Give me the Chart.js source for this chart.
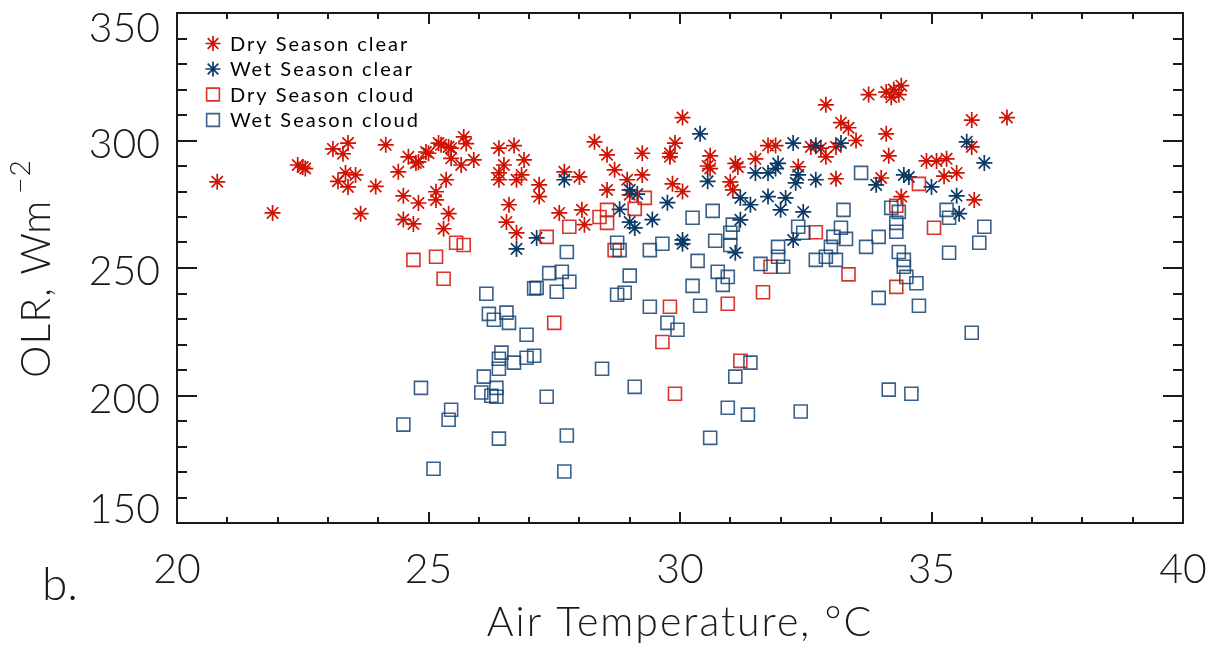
<!DOCTYPE html>
<html>
<head>
<meta charset="utf-8">
<title>OLR vs air temperature</title>
<script src="https://cdn.jsdelivr.net/npm/chart.js@4.4.1/dist/chart.umd.min.js"></script>
<style>
  html, body { margin: 0; padding: 0; background: #fff; }
  #wrap { width: 1215px; height: 650px; position: relative; }
</style>
</head>
<body>
<div id="wrap"><canvas id="olrChart"></canvas></div>
<script>
// Axis ticks
const xTicks = [20, 25, 30, 35, 40];
const yTicks = [150, 200, 250, 300, 350];
const xMinorStep = 1;
const yMinorStep = 10;

const seriesNames = ['Dry Season clear', 'Wet Season clear', 'Dry Season cloud', 'Wet Season cloud'];

// [air temperature (°C), OLR (W m-2)]
const dryClear = [
  [20.8, 283.8], [21.9, 271.6], [22.4, 290.4], [22.5, 289.6], [22.55, 289.0],
  [23.1, 296.7], [23.4, 299.0], [23.3, 294.8], [23.2, 284.0], [23.35, 287.3],
  [23.4, 281.8], [23.55, 286.5], [23.65, 271.3], [23.95, 282.0], [24.15, 298.3],
  [24.4, 287.7], [24.5, 278.3], [24.5, 269.0], [24.7, 267.3], [24.6, 293.6],
  [24.8, 291.6], [24.75, 291.2], [24.8, 275.5], [24.95, 295.5], [25.0, 295.0],
  [25.15, 279.9], [25.15, 276.7], [25.35, 284.6], [25.4, 271.3], [25.3, 265.4],
  [25.2, 299.0], [25.25, 298.3], [25.4, 297.5], [25.45, 297.0], [25.65, 290.4],
  [25.7, 301.4], [25.75, 298.8], [25.45, 293.0], [25.9, 292.4], [26.4, 297.0],
  [26.7, 298.0], [26.5, 290.4], [26.4, 287.3], [26.4, 284.6], [26.75, 284.6],
  [26.9, 292.4], [26.85, 286.5], [27.2, 282.6], [27.2, 278.0], [26.6, 274.8],
  [26.55, 268.0], [26.75, 263.8], [27.6, 271.6], [27.7, 287.7], [28.0, 285.7],
  [28.05, 272.8], [28.1, 267.0], [28.3, 299.5], [28.55, 294.4], [28.7, 288.5],
  [28.55, 280.6], [28.95, 284.6], [29.25, 286.5], [29.0, 278.7], [29.25, 295.0],
  [29.8, 295.0], [29.8, 293.6], [29.9, 299.0], [29.85, 283.0], [30.05, 280.0],
  [30.05, 309.0], [30.6, 294.0], [30.55, 290.0], [30.6, 289.0], [31.1, 291.0],
  [31.15, 289.6], [31.5, 292.8], [31.75, 298.0], [31.9, 298.0], [32.6, 297.5],
  [32.8, 297.0], [32.9, 293.6], [33.1, 297.5], [33.5, 300.0], [34.15, 294.0],
  [34.9, 292.0], [35.1, 292.0], [35.3, 292.8], [35.25, 286.0], [31.0, 283.8],
  [31.05, 280.6], [32.35, 289.7], [33.1, 285.0], [34.0, 285.3], [34.4, 278.0],
  [33.2, 307.0], [33.35, 305.0], [34.1, 302.6], [32.9, 314.0], [33.75, 318.0],
  [34.1, 319.0], [34.2, 317.0], [34.25, 320.0], [34.35, 318.0], [34.4, 321.5],
  [35.8, 308.0], [36.5, 309.0], [35.8, 297.5], [35.5, 287.3], [35.85, 276.7]
];

const wetClear = [
  [26.75, 257.5], [27.15, 261.8], [27.7, 284.6], [28.8, 273.0], [29.0, 280.6],
  [29.15, 279.0], [29.0, 268.0], [29.1, 265.7], [29.45, 269.0], [29.75, 275.6],
  [30.05, 261.0], [30.05, 259.5], [30.4, 302.6], [30.55, 284.0], [31.1, 256.0],
  [31.2, 277.5], [31.4, 274.8], [31.2, 268.9], [31.5, 287.3], [31.75, 287.3],
  [31.75, 278.0], [31.9, 289.0], [31.95, 291.0], [32.0, 272.8], [32.1, 277.5],
  [32.25, 299.0], [32.25, 261.0], [32.3, 283.4], [32.35, 286.5], [32.45, 272.0],
  [32.7, 298.0], [32.7, 284.6], [33.2, 299.0], [33.9, 282.6], [34.45, 286.5],
  [34.55, 285.7], [35.0, 281.8], [35.5, 278.3], [35.55, 271.3], [35.7, 299.5],
  [36.05, 291.2]
];

const dryCloud = [
  [24.7, 253.2], [25.15, 254.4], [25.3, 245.8], [25.55, 259.9], [25.7, 259.0],
  [27.35, 262.2], [27.8, 266.2], [28.55, 272.8], [28.4, 270.0], [28.55, 267.7],
  [28.7, 257.0], [29.1, 273.2], [29.3, 277.5], [32.7, 264.0], [31.8, 250.5],
  [33.35, 247.5], [34.3, 274.4], [34.75, 283.0], [35.05, 265.8], [34.3, 242.6],
  [31.65, 240.5], [27.5, 228.5], [29.8, 234.8], [29.65, 221.0], [29.9, 200.7],
  [30.95, 236.0], [31.2, 213.6]
];

const wetCloud = [
  [26.15, 239.9], [26.2, 232.0], [26.3, 229.7], [26.55, 232.5], [26.6, 228.5],
  [26.45, 216.8], [26.4, 214.4], [26.4, 210.5], [26.1, 207.4], [26.7, 212.9],
  [26.05, 201.2], [26.25, 199.9], [26.35, 199.5], [26.35, 203.0], [25.45, 194.4],
  [25.4, 190.5], [24.85, 203.0], [24.5, 188.6], [26.4, 183.1], [25.1, 171.3],
  [27.4, 248.0], [27.65, 248.5], [27.8, 244.6], [27.1, 242.0], [27.15, 242.2],
  [27.55, 240.7], [28.75, 239.5], [28.9, 240.3], [29.0, 247.0], [29.4, 234.8],
  [30.25, 243.0], [30.4, 235.2], [30.85, 243.4], [30.95, 246.5], [30.75, 248.5],
  [29.75, 228.5], [29.95, 225.8], [26.95, 223.8], [26.95, 214.8], [27.1, 215.6],
  [28.45, 210.5], [29.1, 203.4], [27.35, 199.5], [31.1, 207.4], [31.4, 212.9],
  [30.95, 195.2], [31.35, 192.5], [32.4, 193.7], [30.6, 183.4], [27.75, 184.3],
  [27.7, 170.2], [33.95, 238.3], [34.75, 235.2], [35.8, 224.6], [34.15, 202.3],
  [34.6, 200.7], [33.6, 287.3], [30.65, 272.4], [30.25, 269.7], [31.05, 267.0],
  [31.0, 263.8], [31.0, 259.0], [30.7, 260.7], [29.65, 259.5], [29.4, 257.0],
  [30.35, 252.8], [32.35, 266.2], [32.45, 263.8], [31.95, 258.3], [31.95, 254.4],
  [31.6, 251.6], [32.05, 250.5], [33.05, 262.2], [33.25, 272.8], [33.2, 265.8],
  [33.3, 261.4], [33.0, 258.3], [32.9, 254.4], [33.1, 253.2], [33.7, 258.3],
  [33.95, 262.2], [32.7, 253.2], [34.2, 273.6], [34.35, 272.0], [34.3, 267.7],
  [34.3, 264.2], [34.35, 256.3], [34.45, 253.2], [34.45, 250.5], [34.5, 246.5],
  [34.7, 244.0], [35.3, 272.8], [35.35, 269.7], [35.35, 256.0], [36.05, 266.2],
  [35.95, 259.9], [27.75, 256.3], [28.75, 259.9], [28.8, 257.0]
];

const RED = '#cf1204';
const BLUE = '#0c3a66';
const RED_BOX = 'rgba(212, 30, 20, 0.9)';
const BLUE_BOX = 'rgba(22, 68, 115, 0.85)';
const INK = '#1a1a1a';
const FONT = 'Lato, "DejaVu Sans", sans-serif';

function toPoints(pairs) {
  return pairs.map(([x, y]) => ({ x, y }));
}

const styles = [
  { pointStyle: 'star', radius: 8, borderColor: RED, borderWidth: 1.7 },
  { pointStyle: 'star', radius: 8, borderColor: BLUE, borderWidth: 1.7 },
  { pointStyle: 'rect', radius: 9.2, borderColor: RED_BOX, borderWidth: 1.6 },
  { pointStyle: 'rect', radius: 9.2, borderColor: BLUE_BOX, borderWidth: 1.6 }
];

const datasets = [dryClear, wetClear, dryCloud, wetCloud].map((pairs, i) => ({
  label: seriesNames[i],
  data: toPoints(pairs),
  pointStyle: styles[i].pointStyle,
  pointRadius: styles[i].radius,
  pointHoverRadius: styles[i].radius,
  pointBorderColor: styles[i].borderColor,
  pointBackgroundColor: 'rgba(0,0,0,0)',
  pointBorderWidth: styles[i].borderWidth,
  order: 3 - i
}));

// Box axes with inward ticks on all four sides, labels, titles and key
const framePlugin = {
  id: 'frame',
  afterDraw(chart) {
    const { ctx, chartArea: a, scales } = chart;
    const xs = scales.x, ys = scales.y;
    ctx.save();
    ctx.strokeStyle = INK;
    ctx.lineWidth = 2;
    ctx.strokeRect(a.left, a.top, a.right - a.left, a.bottom - a.top);

    ctx.beginPath();
    // x ticks (bottom and top)
    for (let v = xTicks[0]; v <= xTicks[xTicks.length - 1] + 1e-9; v += xMinorStep) {
      const px = Math.round(xs.getPixelForValue(v));
      const len = xTicks.includes(v) ? 11 : 6;
      ctx.moveTo(px, a.bottom); ctx.lineTo(px, a.bottom - len);
      ctx.moveTo(px, a.top); ctx.lineTo(px, a.top + len);
    }
    // y ticks (left and right)
    for (let v = yTicks[0]; v <= yTicks[yTicks.length - 1] + 1e-9; v += yMinorStep) {
      const py = Math.round(ys.getPixelForValue(v));
      const len = yTicks.includes(v) ? 20 : 10;
      ctx.moveTo(a.left, py); ctx.lineTo(a.left + len, py);
      ctx.moveTo(a.right, py); ctx.lineTo(a.right - len, py);
    }
    ctx.stroke();

    ctx.fillStyle = INK;
    ctx.font = '300 41px ' + FONT;
    ctx.textBaseline = 'alphabetic';

    // y tick labels, kept inside the frame at the ends
    ctx.textAlign = 'right';
    yTicks.forEach(v => {
      const py = ys.getPixelForValue(v);
      const base = Math.min(Math.max(py + 17, a.top + 29), a.bottom);
      ctx.fillText(String(v), a.left - 17, base);
    });

    // x tick labels
    ctx.textAlign = 'center';
    xTicks.forEach(v => {
      ctx.fillText(String(v), xs.getPixelForValue(v), a.bottom + 60);
    });

    // x title
    ctx.letterSpacing = '2px';
    ctx.fillText('Air Temperature, \u00B0C', (a.left + a.right) / 2, 636);
    ctx.letterSpacing = '0px';

    // panel letter
    ctx.textAlign = 'left';
    ctx.font = '300 46px ' + FONT;
    ctx.fillText('b.', 42, 600);

    // y title with superscript
    ctx.save();
    ctx.translate(50, 378);
    ctx.rotate(-Math.PI / 2);
    ctx.font = '300 41px ' + FONT;
    ctx.textAlign = 'left';
    ctx.letterSpacing = '1px';
    const main = 'OLR, Wm';
    ctx.fillText(main, 0, 0);
    const w = ctx.measureText(main).width;
    ctx.font = '300 28px ' + FONT;
    ctx.fillText('\u22122', w + 6, -20);
    ctx.restore();

    // key
    const rowY = [43.5, 69, 94.5, 120];
    seriesNames.forEach((name, i) => {
      const s = styles[i];
      ctx.strokeStyle = s.borderColor;
      ctx.fillStyle = 'rgba(0,0,0,0)';
      ctx.lineWidth = s.borderWidth;
      Chart.helpers.drawPoint(ctx, {
        pointStyle: s.pointStyle,
        radius: s.pointStyle === 'rect' ? 9 : 7.5,
        borderWidth: s.borderWidth,
        rotation: 0
      }, 213, rowY[i]);
      ctx.fillStyle = '#000';
      ctx.font = '20px ' + FONT;
      ctx.letterSpacing = '2px';
      ctx.textAlign = 'left';
      ctx.fillText(name, 230, rowY[i] + 7);
    });
    ctx.restore();
  }
};

new Chart(document.getElementById('olrChart'), {
  type: 'scatter',
  data: { datasets },
  options: {
    responsive: true,
    maintainAspectRatio: false,
    animation: false,
    events: [],
    layout: { padding: { left: 177, right: 32, top: 13, bottom: 127 } },
    plugins: { legend: { display: false }, tooltip: { enabled: false } },
    scales: {
      x: { type: 'linear', min: xTicks[0], max: xTicks[xTicks.length - 1], display: false },
      y: { type: 'linear', min: yTicks[0], max: yTicks[yTicks.length - 1], display: false }
    }
  },
  plugins: [framePlugin]
});
</script>
</body>
</html>
